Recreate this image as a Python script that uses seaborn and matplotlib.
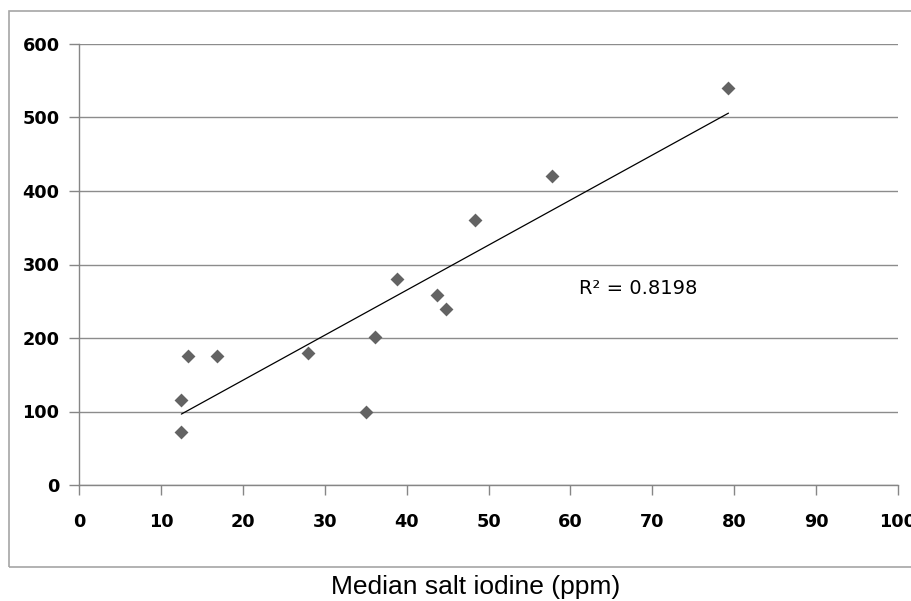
import numpy as np
import pandas as pd
import matplotlib
matplotlib.use("Agg")
import matplotlib.pyplot as plt
import seaborn as sns
from matplotlib.patches import Rectangle

# Data
salt_iodine = [12.5, 12.5, 13.3, 16.8, 28.0, 35.0, 36.2, 38.8, 43.7, 44.8, 48.3, 57.7, 79.3]
urinary_iodine = [116, 72, 176, 176, 180, 100, 202, 280, 258, 240, 360, 420, 540]
x_ticks = [0, 10, 20, 30, 40, 50, 60, 70, 80, 90, 100]
y_ticks = [0, 100, 200, 300, 400, 500, 600]
r2_label = "R\u00b2 = 0.8198"
x_title = "Median salt iodine (ppm)"

df = pd.DataFrame({"x": salt_iodine, "y": urinary_iodine})

sns.set_theme(style="white")
plt.rcParams["font.family"] = ["DejaVu Sans"]

fig = plt.figure(figsize=(9.12, 6.01), dpi=100)
ax = fig.add_axes([79 / 912, 1 - 485 / 601, (898 - 79) / 912, (485 - 44) / 601])

# outer chart border
fig.patches.append(Rectangle((9 / 912, 1 - 567 / 601), 1.0, (567 - 11) / 601,
                             transform=fig.transFigure, fill=False,
                             edgecolor="#a6a6a6", linewidth=1.2, zorder=0))

ax.set_xlim(0, 100)
ax.set_ylim(0, 600)
ax.set_xticks(x_ticks)
ax.set_yticks(y_ticks)
ax.grid(axis="y", color="#8c8c8c", linewidth=1.0)
ax.grid(axis="x", visible=False)
ax.set_axisbelow(True)

sns.regplot(data=df, x="x", y="y", scatter=False, ci=None, truncate=True,
            line_kws={"color": "black", "linewidth": 0.9}, ax=ax)
sns.scatterplot(data=df, x="x", y="y", marker="D", s=50, color="#636363",
                edgecolor="#636363", linewidth=0, ax=ax, zorder=3)

for side in ["top", "right"]:
    ax.spines[side].set_visible(False)
for side in ["left", "bottom"]:
    ax.spines[side].set_color("#868686")
    ax.spines[side].set_linewidth(1.0)

ax.tick_params(axis="x", direction="out", length=7, width=1, color="#868686",
               pad=13, labelsize=12.7, bottom=True)
ax.tick_params(axis="y", direction="out", length=7, width=1, color="#868686",
               pad=7, labelsize=12.7, left=True)
for lab in ax.get_xticklabels() + ax.get_yticklabels():
    lab.set_fontweight("bold")
    lab.set_color("black")

ax.set_xlabel("")
ax.set_ylabel("")

fig.text(579 / 912, 1 - 289 / 601, r2_label, fontsize=14,
         ha="left", va="center", color="black")
fig.text(0.522, 1 - 594 / 601, x_title, ha="center", va="baseline", fontsize=19,
         family=["Liberation Sans", "DejaVu Sans"], color="black")

fig.savefig("out.png", dpi=100)
